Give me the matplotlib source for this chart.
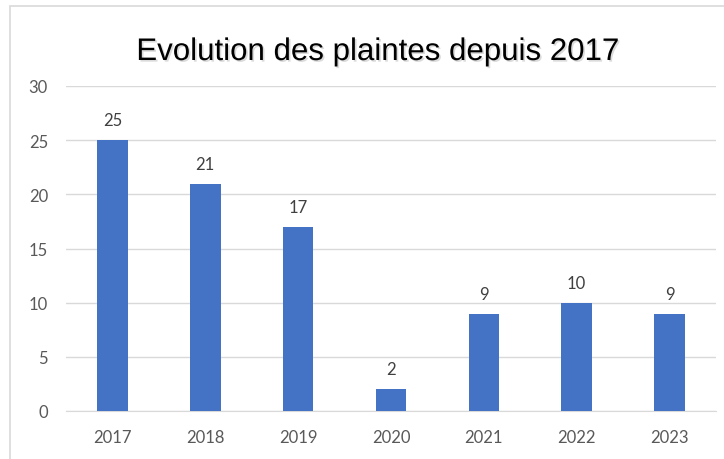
import matplotlib
matplotlib.use('Agg')
import matplotlib.pyplot as plt
import matplotlib.patheffects as pe
from matplotlib.patches import Rectangle

years = ['2017', '2018', '2019', '2020', '2021', '2022', '2023']
plaintes = [25, 21, 17, 2, 9, 10, 9]
title = 'Evolution des plaintes depuis 2017'

W, H = 724, 460
fig = plt.figure(figsize=(W / 100, H / 100), dpi=100)
fig.patch.set_facecolor('white')

# chart border (cut off at right and bottom like the screenshot)
fig.patches.append(Rectangle((10 / W, -0.1), 1.2, 1 - 7 / H + 0.1,
                             transform=fig.transFigure, fill=False,
                             edgecolor='#d9d9d9', linewidth=1.2))

ax = fig.add_axes([66 / W, 1 - 412 / H, (716 - 66) / W, (412 - 87) / H])
x = range(len(years))
ax.bar(x, plaintes, width=0.33, color='#4472C4', zorder=3)
for xi, v in zip(x, plaintes):
    ax.text(xi, v + 1.1, str(v), ha='center', va='bottom',
            fontsize=12, color='#404040', family='Lato')

ax.set_xlim(-0.5, len(years) - 0.5)
ax.set_ylim(0, 30)
ax.set_yticks(range(0, 31, 5))
ax.set_xticks(list(x))
ax.set_xticklabels(years)
ax.grid(axis='y', color='#d9d9d9', linewidth=1, zorder=0)
for s in ['top', 'right', 'left']:
    ax.spines[s].set_visible(False)
ax.spines['bottom'].set_color('#d9d9d9')
ax.tick_params(length=0, labelsize=12, labelcolor='#595959')
ax.tick_params(axis='y', pad=13)
ax.tick_params(axis='x', pad=13)
for lbl in ax.get_xticklabels() + ax.get_yticklabels():
    lbl.set_family('Lato')

fig.text(378 / W, 1 - 53 / H, title, ha='center', va='center',
         fontsize=22.5, family='Liberation Sans', color='black',
         path_effects=[pe.withSimplePatchShadow(offset=(1.2, -1.2),
                                                shadow_rgbFace='#999999',
                                                alpha=0.35)])

fig.savefig('out.png', dpi=100)
